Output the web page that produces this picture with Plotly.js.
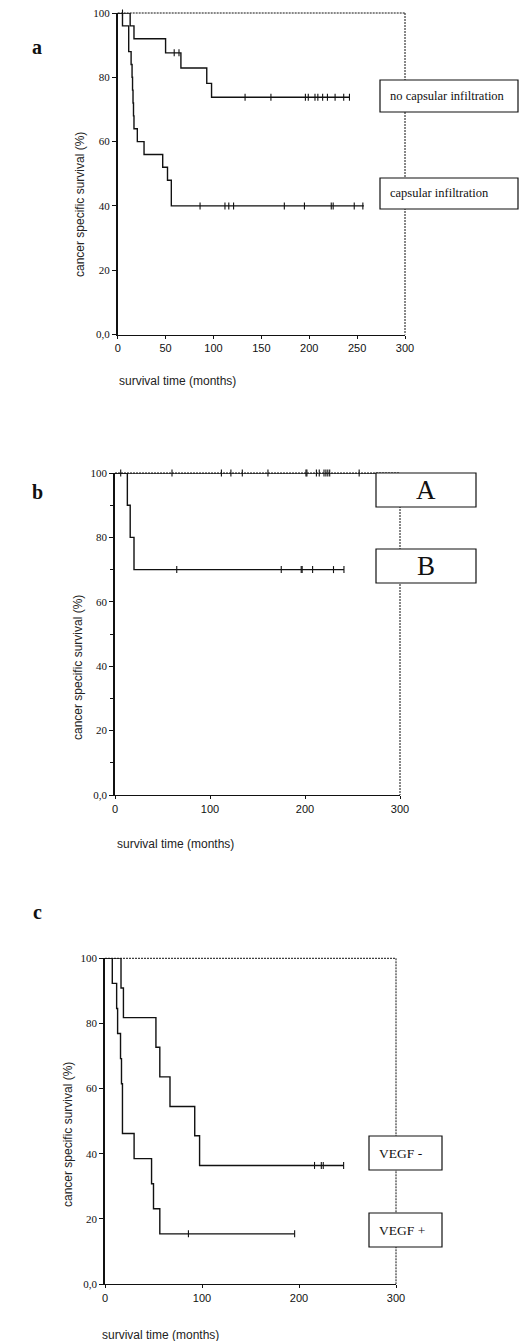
<!DOCTYPE html>
<html><head><meta charset="utf-8">
<script src="https://cdn.plot.ly/plotly-3.0.1.min.js"></script>
<style>html,body{margin:0;padding:0;background:#fff}#chart{width:519px;height:1341px}</style>
</head><body><div id="chart"></div>
<script>
// ---------- data ----------
// Panel a
const timesNoCap = [0, 13, 17, 50, 66, 93, 98, 242];
const survNoCap  = [100, 96, 92, 87.6, 82.9, 78.1, 73.8, 73.8];
const censorNoCap = [5, 59, 64, 133, 160, 196, 199, 206, 209, 214, 219, 227, 236, 242];
const timesCap = [0, 5, 11.5, 14, 15, 15.5, 16, 16.5, 17, 20.5, 27.5, 47, 52, 56, 257];
const survCap  = [100, 96, 88, 84, 80, 76, 72, 68, 64, 60, 56, 52, 48, 40, 40];
const censorCap = [86, 112, 116, 121, 174, 195, 223, 225, 247, 256];
// Panel b
const timesA = [0, 298];
const survA  = [100, 100];
const censorA = [6, 60, 112, 122, 134, 161, 201, 202, 212, 215, 220, 222, 224, 226, 257];
const timesB = [0, 13, 16, 20, 241];
const survB  = [100, 90, 80, 70, 70];
const censorB = [65, 175, 196, 197, 208, 230, 241];
// Panel c
const timesNeg = [0, 16.5, 19, 52.5, 56.5, 67, 92.5, 97.5, 246];
const survNeg  = [100, 90.9, 81.8, 72.7, 63.6, 54.5, 45.5, 36.4, 36.4];
const censorNeg = [216, 223, 225, 246];
const timesPos = [0, 7.5, 12, 13, 16, 17, 18, 30, 48, 50, 56.5, 195.5];
const survPos  = [100, 92.3, 84.6, 76.9, 69.2, 61.5, 46.2, 38.5, 30.8, 23.1, 15.4, 15.4];
const censorPos = [86, 195.5];
// ticks & labels
const yTickVals = [0, 20, 40, 60, 80, 100];
const yTickText = ['0,0', '20', '40', '60', '80', '100'];
const xTicksA = [0, 50, 100, 150, 200, 250, 300];
const xTicksBC = [0, 100, 200, 300];
const labelsA = ['no capsular infiltration', 'capsular infiltration'];
const labelsB = ['A', 'B'];
const labelsC = ['VEGF -', 'VEGF +'];
const yTitle = 'cancer specific survival (%)';
const xTitle = 'survival time (months)';
const panelLetters = ['a', 'b', 'c'];

// ---------- layout helpers ----------
const W = 519, H = 1341;
const px = x => x / W;
const py = y => 1 - y / H;
const SERIF = 'Liberation Serif, Times New Roman, serif';
const SANS = 'Liberation Sans, Arial, sans-serif';
const INK = '#111';

function stepAt(times, surv, t) {
  let v = surv[0];
  for (let i = 0; i < times.length; i++) if (times[i] <= t) v = surv[i];
  return v;
}

const panels = [
  { n: '', box: [117.7, 405, 13, 334.5], xt: xTicksA, minor: false,
    curves: [[timesNoCap, survNoCap, censorNoCap], [timesCap, survCap, censorCap]],
    legend: { labels: labelsA, x0: 380, x1: 518, ys: [[80, 112], [178, 209]], size: 12.5, align: 'left', tx: 388 },
    letterY: 47, yTitleX: 80, yTitleY: 205, xTitleX: 117, xTitleY: 381 },
  { n: '2', box: [115, 400, 473, 795], xt: xTicksBC, minor: true,
    curves: [[timesA, survA, censorA], [timesB, survB, censorB]],
    legend: { labels: labelsB, x0: 376, x1: 476, ys: [[473, 507], [549, 583]], size: 27, align: 'center' },
    letterY: 492, yTitleX: 78, yTitleY: 668, xTitleX: 115, xTitleY: 844 },
  { n: '3', box: [105, 396, 958.3, 1284], xt: xTicksBC, minor: false,
    curves: [[timesNeg, survNeg, censorNeg], [timesPos, survPos, censorPos]],
    legend: { labels: labelsC, x0: 369, x1: 442, ys: [[1136, 1170], [1213, 1247]], size: 13.5, align: 'left', tx: 377 },
    letterY: 912, yTitleX: 68, yTitleY: 1135, xTitleX: 100, xTitleY: 1335 }
];

const data = [];
const layout = {
  width: W, height: H, margin: { l: 0, r: 0, t: 0, b: 0 },
  paper_bgcolor: '#fff', plot_bgcolor: '#fff', showlegend: false,
  shapes: [], annotations: []
};

panels.forEach((p, i) => {
  const [x0, x1, y0, y1] = p.box;
  const xa = 'x' + p.n, ya = 'y' + p.n;
  layout['xaxis' + p.n] = {
    domain: [px(x0), px(x1)], range: [0, 300], anchor: ya,
    tickvals: p.xt, ticks: 'outside', ticklen: 3, tickwidth: 1, tickcolor: INK,
    showline: true, linecolor: INK, linewidth: 1.3, showgrid: false, zeroline: false,
    tickfont: { family: SANS, size: 11, color: INK }, fixedrange: true
  };
  const yax = {
    domain: [py(y1), py(y0)], range: [0, 100], anchor: xa,
    tickvals: yTickVals, ticktext: yTickText, ticks: 'outside', ticklen: 4, tickwidth: 1, tickcolor: INK,
    showline: true, linecolor: INK, linewidth: 1.8, showgrid: false, zeroline: false,
    tickfont: { family: SERIF, size: 11, color: INK }, fixedrange: true
  };
  if (p.minor) yax.minor = { tickvals: [10, 30, 50, 70, 90], ticks: 'outside', ticklen: 3, tickcolor: INK, showgrid: false };
  layout['yaxis' + p.n] = yax;

  p.curves.forEach(([t, s, c]) => {
    data.push({ x: t, y: s, xaxis: xa, yaxis: ya, mode: 'lines', cliponaxis: false,
      line: { shape: 'hv', color: INK, width: 1.4 }, hoverinfo: 'skip' });
    data.push({ x: c, y: c.map(v => stepAt(t, s, v)), xaxis: xa, yaxis: ya, mode: 'markers', cliponaxis: false,
      marker: { symbol: 'line-ns-open', size: 5, color: INK, line: { width: 1.1, color: INK } }, hoverinfo: 'skip' });
  });

  // frame top & right (dotted)
  layout.shapes.push({ type: 'line', xref: 'paper', yref: 'paper', x0: px(x0), x1: px(x1), y0: py(y0), y1: py(y0),
    line: { color: INK, width: 1, dash: '2px,1px' } });
  layout.shapes.push({ type: 'line', xref: 'paper', yref: 'paper', x0: px(x1), x1: px(x1), y0: py(y0), y1: py(y1),
    line: { color: INK, width: 1, dash: '2px,1px' } });

  // legend boxes
  const L = p.legend;
  L.ys.forEach(([ya0, ya1], k) => {
    layout.shapes.push({ type: 'rect', xref: 'paper', yref: 'paper', x0: px(L.x0), x1: px(L.x1), y0: py(ya1), y1: py(ya0),
      fillcolor: '#fff', line: { color: INK, width: 1.2 }, layer: 'above' });
    const centre = L.align === 'center';
    layout.annotations.push({ xref: 'paper', yref: 'paper', showarrow: false,
      x: centre ? px((L.x0 + L.x1) / 2) : px(L.tx), xanchor: centre ? 'center' : 'left',
      y: py((ya0 + ya1) / 2), yanchor: 'middle', text: L.labels[k],
      font: { family: SERIF, size: L.size, color: INK } });
  });

  // panel letter
  layout.annotations.push({ xref: 'paper', yref: 'paper', showarrow: false, x: px(37), y: py(p.letterY),
    xanchor: 'center', yanchor: 'middle', text: '<b>' + panelLetters[i] + '</b>',
    font: { family: SERIF, size: 20, color: INK } });
  // y title
  layout.annotations.push({ xref: 'paper', yref: 'paper', showarrow: false, x: px(p.yTitleX), y: py(p.yTitleY),
    xanchor: 'center', yanchor: 'middle', textangle: -90, text: yTitle,
    font: { family: SANS, size: 12, color: '#222' } });
  // x title
  layout.annotations.push({ xref: 'paper', yref: 'paper', showarrow: false, x: px(p.xTitleX), y: py(p.xTitleY),
    xanchor: 'left', yanchor: 'middle', text: xTitle,
    font: { family: SANS, size: 12, color: '#222' } });
});

Plotly.newPlot('chart', data, layout, { staticPlot: true, displayModeBar: false });
</script>
</body></html>
